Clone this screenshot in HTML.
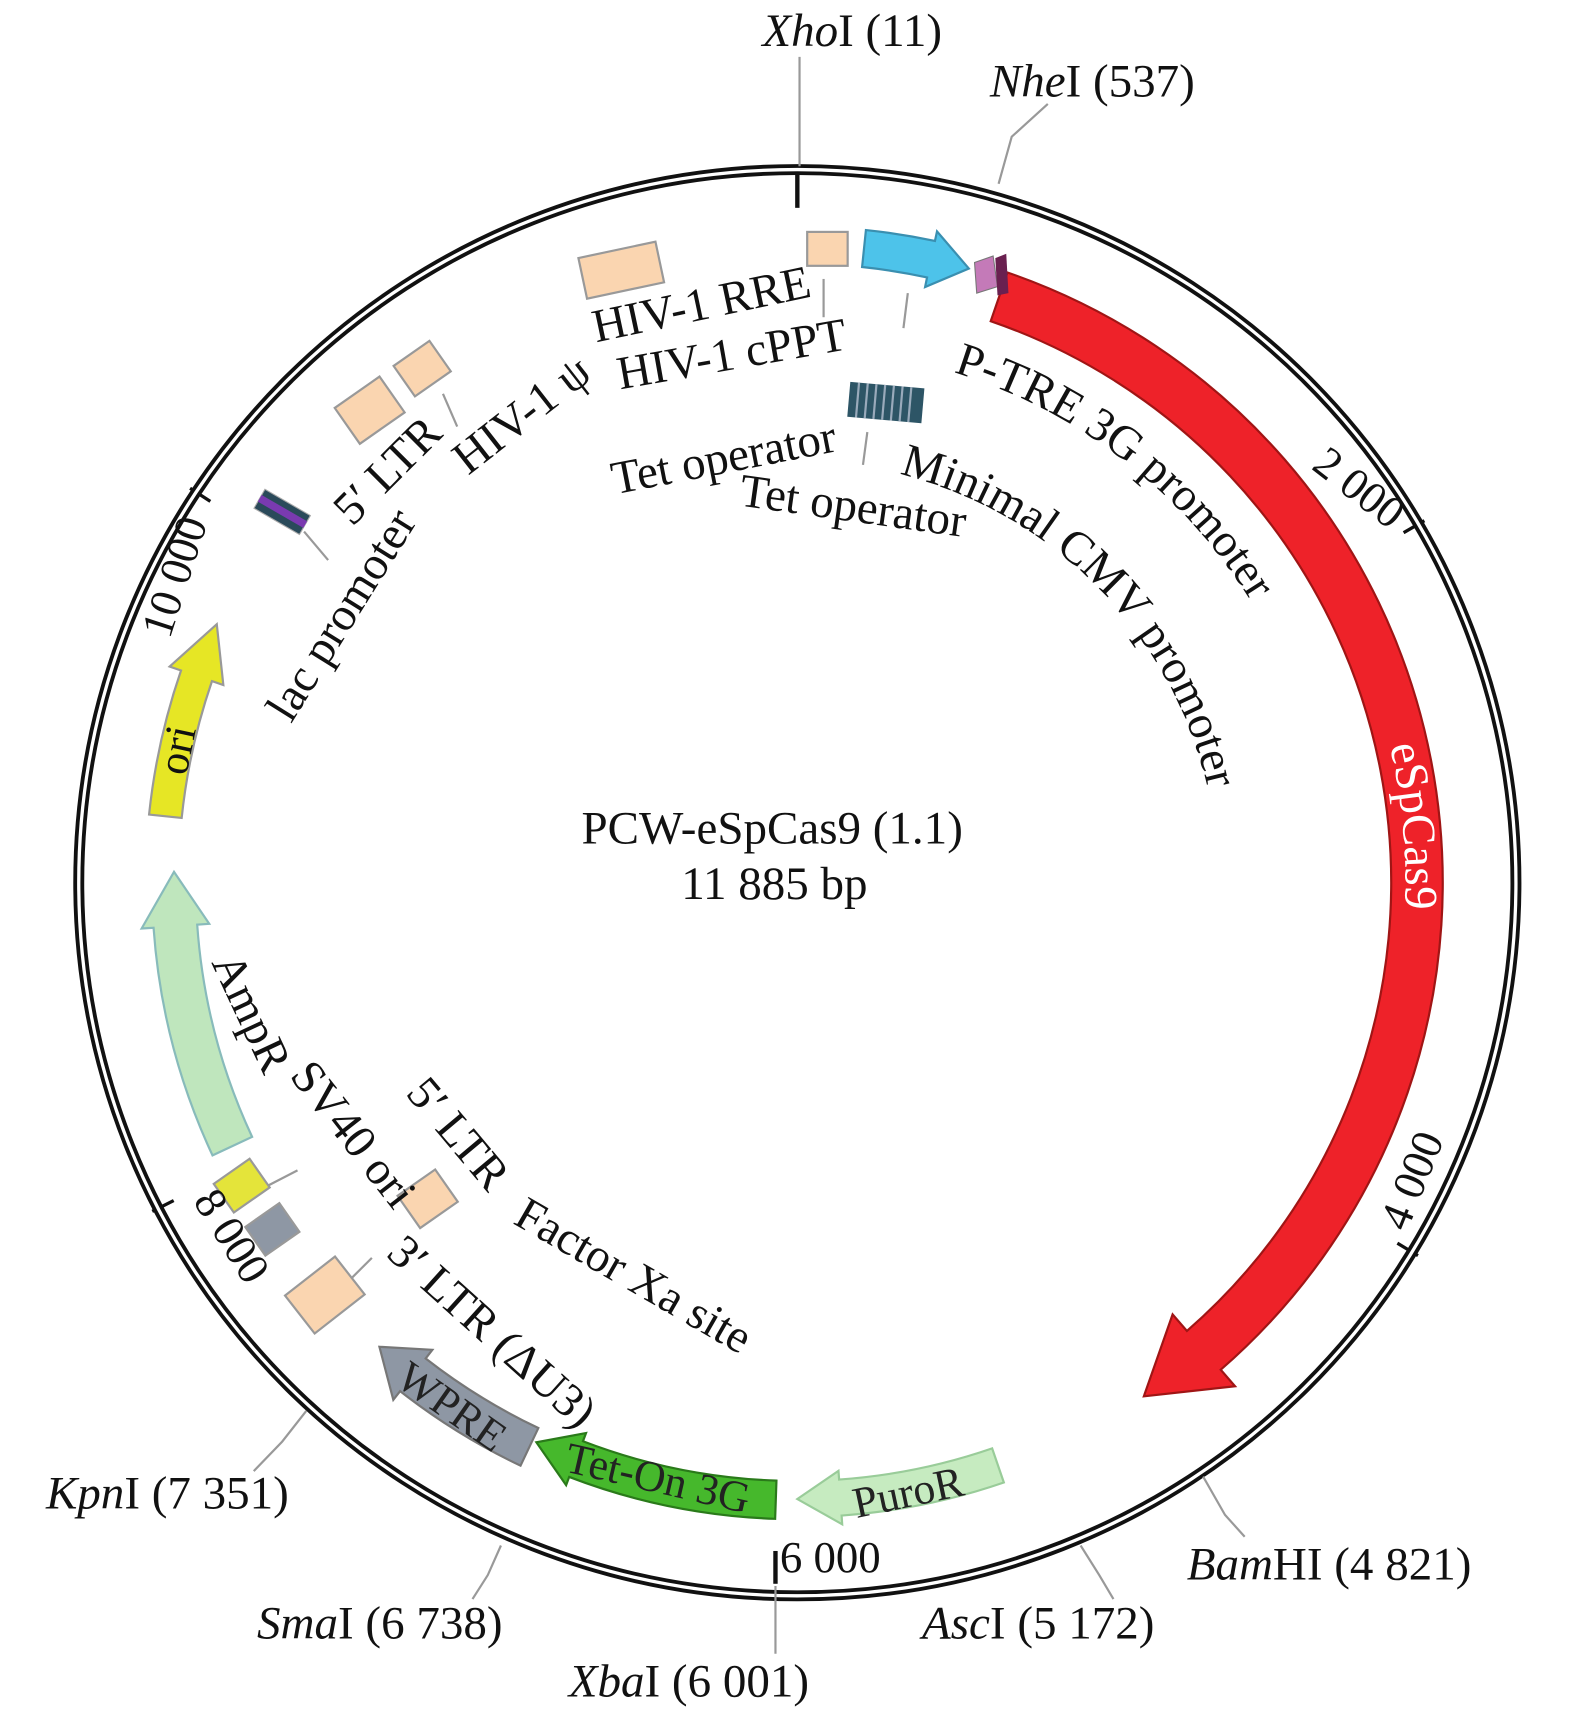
<!DOCTYPE html>
<html><head><meta charset="utf-8"><style>
html,body{margin:0;padding:0;background:#fff;width:1575px;height:1726px;overflow:hidden}
svg{display:block}
text{font-family:"Liberation Serif",serif;font-size:43px;fill:#111}
</style></head><body>
<svg id="s" width="1575" height="1726" viewBox="0 0 1440 1578" xmlns="http://www.w3.org/2000/svg">
<defs></defs>
<g id="g"></g>
<ellipse cx="729" cy="807" rx="657" ry="652" fill="none" stroke="#111" stroke-width="10"/>
<ellipse cx="729" cy="807" rx="657" ry="652" fill="none" stroke="#fff" stroke-width="3"/>
<line x1="729" y1="158" x2="729" y2="190" stroke="#111" stroke-width="4"/>
<line x1="709" y1="1418" x2="709" y2="1448" stroke="#111" stroke-width="4"/>
<g stroke="#999" stroke-width="2" fill="none">
<line x1="731" y1="52" x2="731" y2="152"/>
<polyline points="913,168 925,125 958,95"/>
<polyline points="1100,1350 1120,1385 1138,1405"/>
<polyline points="988,1413 1005,1440 1018,1462"/>
<line x1="709" y1="1450" x2="709" y2="1512"/>
<polyline points="458,1413 446,1440 432,1462"/>
<polyline points="280,1290 258,1318 232,1345"/>
<line x1="753" y1="255" x2="753" y2="290"/>
<line x1="830" y1="268" x2="826" y2="300"/>
<line x1="793" y1="395" x2="789" y2="425"/>
<line x1="405" y1="360" x2="418" y2="390"/>
<line x1="278" y1="486" x2="300" y2="512"/>
<line x1="243" y1="1085" x2="272" y2="1070"/>
<line x1="315" y1="1175" x2="340" y2="1150"/>
</g>
<g stroke="#999" stroke-width="2" fill="#fad5b0">
<rect x="738" y="212" width="37" height="31"/>
<rect x="532" y="228" width="72" height="38" transform="rotate(-12 568 247)"/>
<rect x="313" y="355" width="50" height="40" transform="rotate(-35 338 375)"/>
<rect x="366" y="320" width="40" height="34" transform="rotate(-35 386 337)"/>
<rect x="370" y="1078" width="42" height="36" transform="rotate(-35 391 1096)"/>
<rect x="268" y="1162" width="58" height="44" transform="rotate(-38 297 1184)"/>
<rect x="201" y="1068" width="40" height="32" fill="#e4e43a" transform="rotate(-35 221 1084)"/>
<rect x="230" y="1108" width="38" height="32" fill="#8e97a4" transform="rotate(-35 249 1124)"/>
</g>
<g transform="rotate(5 810 367)">
<rect x="776" y="352" width="68" height="32" fill="#2d5566"/>
<g stroke="#9ab" stroke-width="2"><line x1="784" y1="352" x2="784" y2="384"/><line x1="792" y1="352" x2="792" y2="384"/><line x1="800" y1="352" x2="800" y2="384"/><line x1="808" y1="352" x2="808" y2="384"/><line x1="816" y1="352" x2="816" y2="384"/><line x1="824" y1="352" x2="824" y2="384"/><line x1="832" y1="352" x2="832" y2="384"/></g>
</g>
<g transform="rotate(30 258 468)">
<rect x="234" y="458" width="48" height="20" fill="#2a4a5a" stroke="#aaa"/>
<rect x="234" y="464" width="48" height="7" fill="#7a3ab0"/>
</g>
<polygon points="891,240 908,234 912,262 893,268" fill="#c47ab8" stroke="#777"/>
<polygon points="910,236 920,232 922,268 912,270" fill="#6a2050"/>
<text x="697" y="42"><tspan font-style="italic">Xho</tspan>I (11)</text>
<text x="905" y="88"><tspan font-style="italic">Nhe</tspan>I (537)</text>
<text x="1085" y="1444"><tspan font-style="italic">Bam</tspan>HI (4 821)</text>
<text x="843" y="1498"><tspan font-style="italic">Asc</tspan>I (5 172)</text>
<text x="520" y="1551"><tspan font-style="italic">Xba</tspan>I (6 001)</text>
<text x="235" y="1498"><tspan font-style="italic">Sma</tspan>I (6 738)</text>
<text x="42" y="1379"><tspan font-style="italic">Kpn</tspan>I (7 351)</text>
<text x="713" y="1437" style="font-size:41px">6 000</text>
<text x="706" y="771" text-anchor="middle">PCW-eSpCas9 (1.1)</text>
<text x="708" y="822" text-anchor="middle">11 885 bp</text>
<text transform="translate(1198,428) rotate(38)" style="font-size:41px">2 000</text>
<text transform="translate(1286,1127) rotate(-68)" style="font-size:41px">4 000</text>
<text transform="translate(176,1098) rotate(58)" style="font-size:41px">8 000</text>
<text transform="translate(155,585) rotate(-72)" style="font-size:41px">10 000</text>
<text transform="translate(545,313) rotate(-12)">HIV-1 RRE</text>
<text transform="translate(567,356) rotate(-10)">HIV-1 cPPT</text>
<text transform="translate(428,435) rotate(-38)">HIV-1 ψ</text>
<text transform="translate(322,482) rotate(-45)">5′ LTR</text>
<text transform="translate(266,662) rotate(-58)">lac promoter</text>
<text transform="translate(562,452) rotate(-11)">Tet operator</text>
<text transform="translate(675,462) rotate(8)">Tet operator</text>
<text transform="translate(193,880) rotate(65)">AmpR</text>
<text transform="translate(264,984) rotate(52)">SV40 ori</text>
<text transform="translate(370,1000) rotate(50)">5′ LTR</text>
<text transform="translate(468,1118) rotate(30)">Factor Xa site</text>
<text transform="translate(352,1148) rotate(42)">3′ LTR (ΔU3)</text>
<g id="tp"></g>
<text transform="translate(170,710) rotate(-78)" style="font-size:40px">ori</text>
<text transform="translate(360,1265) rotate(35)" style="font-size:40px;fill:#222">WPRE</text>
<text transform="translate(515,1345) rotate(13)" style="font-size:40px;fill:#222">Tet-On 3G</text>
<text transform="translate(783,1388) rotate(-12)" style="font-size:40px;fill:#222">PuroR</text>
</svg>
<script>
var cx=729,cy=807,NS="http://www.w3.org/2000/svg";
function P(a,r){a=a*Math.PI/180;return (cx+r*Math.sin(a)).toFixed(1)+","+(cy-r*Math.cos(a)).toFixed(1);}
var g=document.getElementById("g");
function arrow(a0,a1,ri,ro,h,ex,fill,stroke){
 var s=a1>a0?1:-1,ab=a1-s*h,rm=(ri+ro)/2,sw=s>0?1:0,la=Math.abs(ab-a0)>180?1:0;
 var d="M"+P(a0,ro)+" A"+ro+","+ro+" 0 "+la+" "+sw+" "+P(ab,ro)+" L"+P(ab,ro+ex)+" L"+P(a1,rm)+" L"+P(ab,ri-ex)+" L"+P(ab,ri)+" A"+ri+","+ri+" 0 "+la+" "+(1-sw)+" "+P(a0,ri)+" Z";
 var p=document.createElementNS(NS,"path");p.setAttribute("d",d);p.setAttribute("fill",fill);p.setAttribute("stroke",stroke||"#888");p.setAttribute("stroke-width","2");g.appendChild(p);
}
arrow(19,146,543,590,7,20,"#ee2229","#a01515");
arrow(6,15.6,566,600,3.5,9,"#4dc3ea","#3a8fb0");
arrow(276,294,566,596,5,11,"#e6e625","#999");
arrow(245,271,550,590,5,11,"#bfe6bd","#8bb");
arrow(205.4,222,552,590,4,10,"#8e97a4","#777");
arrow(182,205,547,582,4,8,"#46b82c","#2a7a1a");
arrow(161,180,547,580,4,8,"#c6ebc0","#9c9");
[[60],[121],[243],[303]].forEach(function(t){var l=document.createElementNS(NS,"line");var a=P(t[0],640).split(","),b=P(t[0],662).split(",");l.setAttribute("x1",a[0]);l.setAttribute("y1",a[1]);l.setAttribute("x2",b[0]);l.setAttribute("y2",b[1]);l.setAttribute("stroke","#111");l.setAttribute("stroke-width","3");g.appendChild(l);});
var tp=document.getElementById("tp"),defs=document.querySelector("defs");
function arcText(id,r,a0,a1,txt,fill,size){
 var p=document.createElementNS(NS,"path");p.setAttribute("id",id);p.setAttribute("d","M"+P(a0,r)+" A"+r+","+r+" 0 0 1 "+P(a1,r));defs.appendChild(p);
 var t=document.createElementNS(NS,"text");if(fill)t.setAttribute("style","fill:"+fill+(size?";font-size:"+size+"px":""));
 var q=document.createElementNS(NS,"textPath");q.setAttributeNS("http://www.w3.org/1999/xlink","href","#"+id);q.setAttribute("href","#"+id);q.textContent=txt;t.appendChild(q);tp.appendChild(t);
}
arcText("a1",488,17,85,"P-TRE 3G promoter");
arcText("a2",385,14,90,"Minimal CMV promoter");
arcText("a3",556,77,100,"eSpCas9","#fff",43);
</script>
</body></html>
